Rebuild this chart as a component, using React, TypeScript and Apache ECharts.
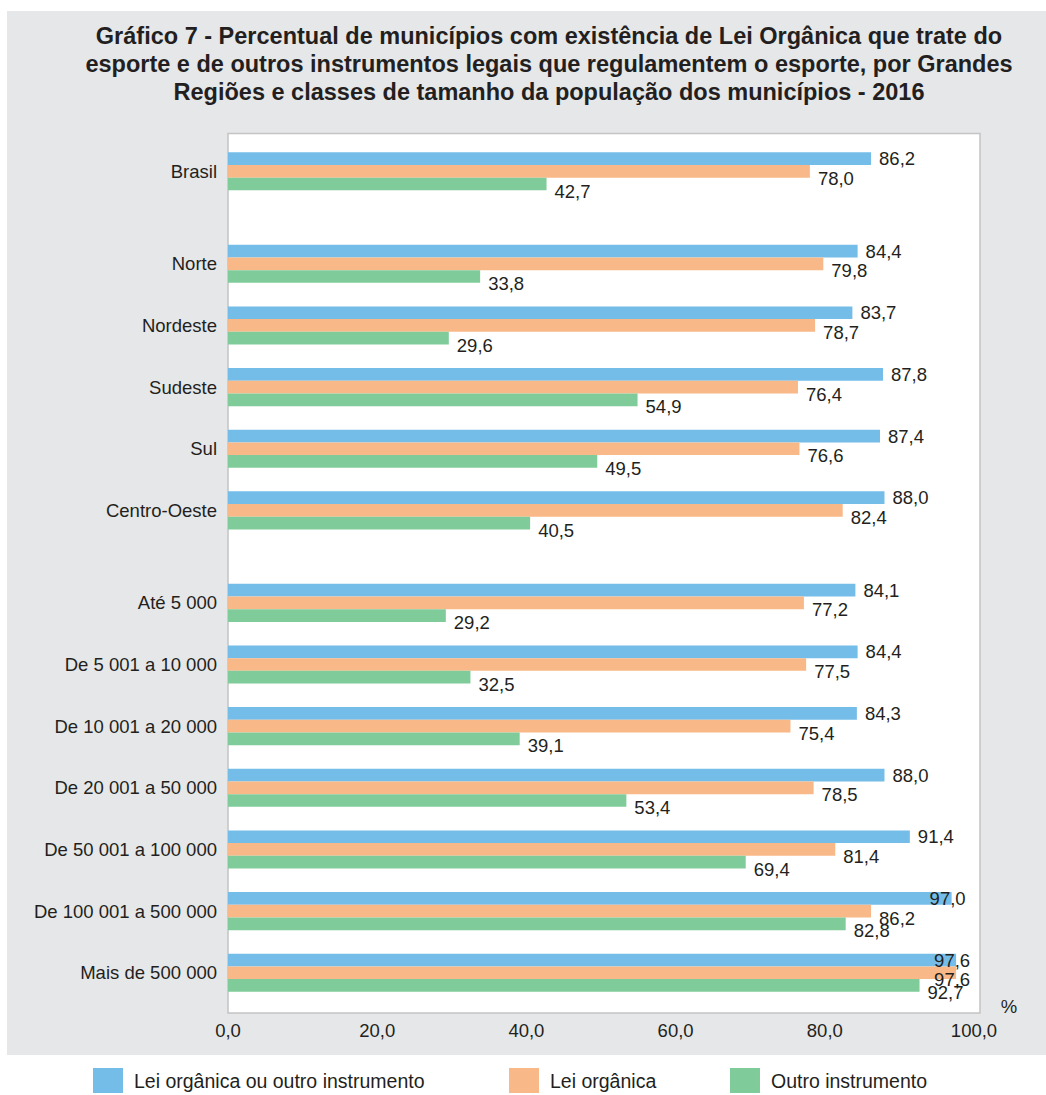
import React, { useEffect, useRef } from "react";
import * as echarts from "echarts";

const titleLines = [
  "Gráfico 7 - Percentual de municípios com existência de Lei Orgânica que trate do",
  "esporte e de outros instrumentos legais que regulamentem o esporte, por Grandes",
  "Regiões e classes de tamanho da população dos municípios - 2016",
];

const seriesNames = ["Lei orgânica ou outro instrumento", "Lei orgânica", "Outro instrumento"];
const seriesColors = ["#74bde8", "#f9b887", "#80cb9a"];

const groupBrasil = ["Brasil"];
const groupRegioes = ["Norte", "Nordeste", "Sudeste", "Sul", "Centro-Oeste"];
const groupTamanho = [
  "Até 5 000",
  "De 5 001 a 10 000",
  "De 10 001 a 20 000",
  "De 20 001 a 50 000",
  "De 50 001 a 100 000",
  "De 100 001 a 500 000",
  "Mais de 500 000",
];

// [Lei orgânica ou outro instrumento, Lei orgânica, Outro instrumento]
const brasilValues = [[86.2], [78.0], [42.7]];
const regioesValues = [
  [84.4, 83.7, 87.8, 87.4, 88.0],
  [79.8, 78.7, 76.4, 76.6, 82.4],
  [33.8, 29.6, 54.9, 49.5, 40.5],
];
const tamanhoValues = [
  [84.1, 84.4, 84.3, 88.0, 91.4, 97.0, 97.6],
  [77.2, 77.5, 75.4, 78.5, 81.4, 86.2, 97.6],
  [29.2, 32.5, 39.1, 53.4, 69.4, 82.8, 92.7],
];

const xTicks = [0, 20, 40, 60, 80, 100];

const fmt = (v: number) => v.toFixed(1).replace(".", ",");

export default function App() {
  const ref = useRef<HTMLDivElement>(null);
  useEffect(() => {
    if (!ref.current) return;
    const chart = echarts.init(ref.current, undefined, { renderer: "svg" });
    const font = "'Liberation Sans', Arial, sans-serif";
    const textColor = "#231f20";
    const fs = 18.5;
    const band = 61.65;
    const c0 = 171.3;
    const plotLeft = 228;
    const dataWidth = 746;
    const groups = [
      { cats: groupBrasil, vals: brasilValues, top: c0 - band / 2, n: 1 },
      { cats: groupRegioes, vals: regioesValues, top: c0 + 1.5 * band - band / 2, n: 5 },
      { cats: groupTamanho, vals: tamanhoValues, top: c0 + 7 * band - band / 2, n: 7 },
    ];
    const grids: any[] = groups.map((g) => ({
      left: plotLeft,
      width: dataWidth,
      top: g.top,
      height: g.n * band,
      containLabel: false,
    }));
    // background plot grid
    const bgTop = 133.5;
    const bgBottom = 1013;
    const bgWidth = 752;
    grids.push({
      left: plotLeft,
      width: bgWidth,
      top: bgTop,
      height: bgBottom - bgTop,
      show: true,
      backgroundColor: "#ffffff",
      borderColor: "#c4c4c4",
      borderWidth: 1.5,
      z: 0,
    });
    const xAxes: any[] = groups.map((_, i) => ({
      type: "value",
      gridIndex: i,
      min: 0,
      max: 100,
      show: false,
    }));
    xAxes.push({
      type: "value",
      gridIndex: 3,
      min: 0,
      max: (100 * bgWidth) / dataWidth,
      interval: 20,
      axisLine: { show: false },
      axisTick: { show: false },
      splitLine: { show: false },
      axisLabel: {
        margin: 8,
        fontSize: fs,
        fontFamily: font,
        color: textColor,
        formatter: (v: number) => (xTicks.includes(Math.round(v * 1000) / 1000) ? fmt(v) : ""),
      },
    });
    const yAxes: any[] = groups.map((g, i) => ({
      type: "category",
      gridIndex: i,
      inverse: true,
      data: g.cats,
      axisLine: { show: false },
      axisTick: { show: false },
      splitLine: { show: false },
      axisLabel: { margin: 11, fontSize: fs, fontFamily: font, color: textColor },
    }));
    yAxes.push({
      type: "value",
      gridIndex: 3,
      min: 0,
      max: 1,
      axisLine: { show: false },
      axisTick: { show: false },
      splitLine: { show: false },
      axisLabel: { show: false },
    });
    const series: any[] = [];
    groups.forEach((g, gi) => {
      seriesNames.forEach((name, si) => {
        series.push({
          type: "bar",
          name,
          xAxisIndex: gi,
          yAxisIndex: gi,
          barWidth: 12.7,
          barGap: "0%",
          itemStyle: { color: seriesColors[si] },
          z: 3,
          data: g.vals[si].map((v) => ({
            value: v,
            label: v > 95 ? { offset: [-30, si === 0 ? 0 : 7] } : undefined,
          })),
          label: {
            show: true,
            position: "right",
            distance: 8,
            offset: [0, si === 0 ? 0 : 7],
            fontSize: fs,
            fontFamily: font,
            color: textColor,
            formatter: (p: any) => fmt(p.value),
          },
        });
      });
    });
    const legendLefts = [93, 509, 730];
    const legends = seriesNames.map((name, i) => ({
      data: [name],
      left: legendLefts[i],
      top: 1068,
      padding: 0,
      orient: "horizontal",
      itemWidth: 30,
      itemHeight: 25,
      icon: "rect",
      selectedMode: false,
      textStyle: { fontSize: 19.5, fontFamily: font, color: textColor, padding: [0, 0, 0, 6] },
    }));
    chart.setOption({
      animation: false,
      backgroundColor: "#ffffff",
      grid: grids,
      xAxis: xAxes,
      yAxis: yAxes,
      series,
      legend: legends,
      graphic: [
        {
          type: "rect",
          z: -10,
          silent: true,
          shape: { x: 7, y: 11, width: 1039, height: 1044 },
          style: { fill: "#e6e7e9" },
        },
        {
          type: "text",
          z: 10,
          x: 549,
          y: 22,
          style: {
            text: titleLines.join("\n"),
            fontSize: 23.5,
            fontWeight: "bold",
            fontFamily: font,
            fill: textColor,
            align: "center",
            lineHeight: 28,
          },
        },
        {
          type: "text",
          z: 10,
          x: 1009,
          y: 1006,
          style: {
            text: "%",
            fontSize: fs,
            fontFamily: font,
            fill: textColor,
            align: "center",
            verticalAlign: "middle",
          },
        },
      ],
    });
    return () => chart.dispose();
  }, []);
  return (
    <div
      ref={ref}
      style={{ position: "absolute", left: 0, top: 0, width: 1046, height: 1095 }}
    />
  );
}
